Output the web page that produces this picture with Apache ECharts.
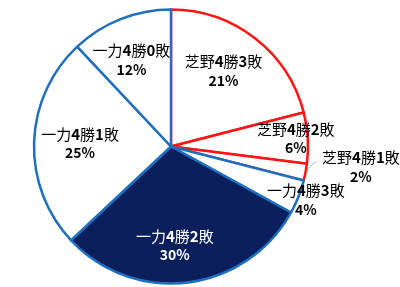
<!DOCTYPE html>
<html>
<head>
<meta charset="utf-8">
<script src="https://cdn.jsdelivr.net/npm/echarts@6/dist/echarts.min.js"></script>
<style>
html,body{margin:0;padding:0;background:#fff;}
#c{width:400px;height:287px;}
</style>
</head>
<body>
<div id="c"></div>
<script>
// ---- data ----
const categories = ['芝野4勝3敗','芝野4勝2敗','芝野4勝1敗','一力4勝3敗','一力4勝2敗','一力4勝1敗','一力4勝0敗'];
const values = [21, 6, 2, 4, 30, 25, 12];
const groups = ['芝野','芝野','芝野','一力','一力','一力','一力'];
const highlighted = '一力4勝2敗';

// ---- layout / style ----
const CX = 171, CY = 146.5, R = 137;
const labelDist = [92, 125, 191, 145, 99, 91, 95];   // px from centre
const labelTurn = [-3, 0, -4.6, 0, 5, 0, -3];        // deg shift from slice mid angle
const RED = '#ff1414', BLUE = '#1e6fbd', NAVY = '#0a1f5c';

const total = values.reduce((a, b) => a + b, 0);
function midAngle(i) {
  let cum = 0;
  for (let k = 0; k < i; k++) cum += values[k];
  return (cum + values[i] / 2) / total * 360;
}
function polar(d, deg) {
  const t = deg * Math.PI / 180;
  return [CX + d * Math.sin(t), CY - d * Math.cos(t)];
}

const data = categories.map((name, i) => {
  const dark = name === highlighted;
  const item = {
    name: name,
    value: values[i],
    itemStyle: {
      color: dark ? NAVY : '#ffffff',
      borderColor: groups[i] === '芝野' ? RED : BLUE,
      borderWidth: 2.5
    },
    label: { color: dark ? '#ffffff' : '#000000' }
  };
  if (values[i] < 3) {
    item.label.position = 'outside';
    item.labelLine = { show: true, lineStyle: { color: '#9fc3e6', width: 1 } };
  }
  return item;
});

const chart = echarts.init(document.getElementById('c'));
chart.setOption({
  animation: false,
  backgroundColor: '#ffffff',
  series: [{
    type: 'pie',
    center: [CX, CY],
    radius: [0, R],
    startAngle: 90,
    clockwise: true,
    avoidLabelOverlap: false,
    silent: true,
    data: data,
    label: {
      show: true,
      position: 'inside',
      fontFamily: '"Noto Sans CJK JP", sans-serif',
      formatter: function (p) {
        const nm = p.name.replace(/(\d)/g, '}{d|$1}{n|');
        return '{n|' + nm + '}\n{p|' + p.value + '%}';
      },
      rich: {
        n: { fontSize: 15, fontWeight: 'normal', lineHeight: 19, fontFamily: '"Noto Sans CJK JP", sans-serif' },
        d: { fontSize: 15, fontWeight: 'bold', lineHeight: 19, fontFamily: '"Noto Sans CJK JP", sans-serif' },
        p: { fontSize: 14, fontWeight: 'bold', lineHeight: 19, fontFamily: '"Noto Sans CJK JP", sans-serif' }
      }
    },
    labelLine: { show: false },
    labelLayout: function (params) {
      const i = params.dataIndex;
      const ang = midAngle(i) + labelTurn[i];
      const pt = polar(labelDist[i], ang);
      const res = { x: pt[0], y: pt[1], align: 'center', verticalAlign: 'middle' };
      if (values[i] < 3) {
        const a = polar(R, midAngle(i) - 1);
        const b = polar(R + 9, midAngle(i) - 5);
        res.labelLinePoints = [a, b, b];
      }
      return res;
    }
  }]
});
</script>
</body>
</html>
